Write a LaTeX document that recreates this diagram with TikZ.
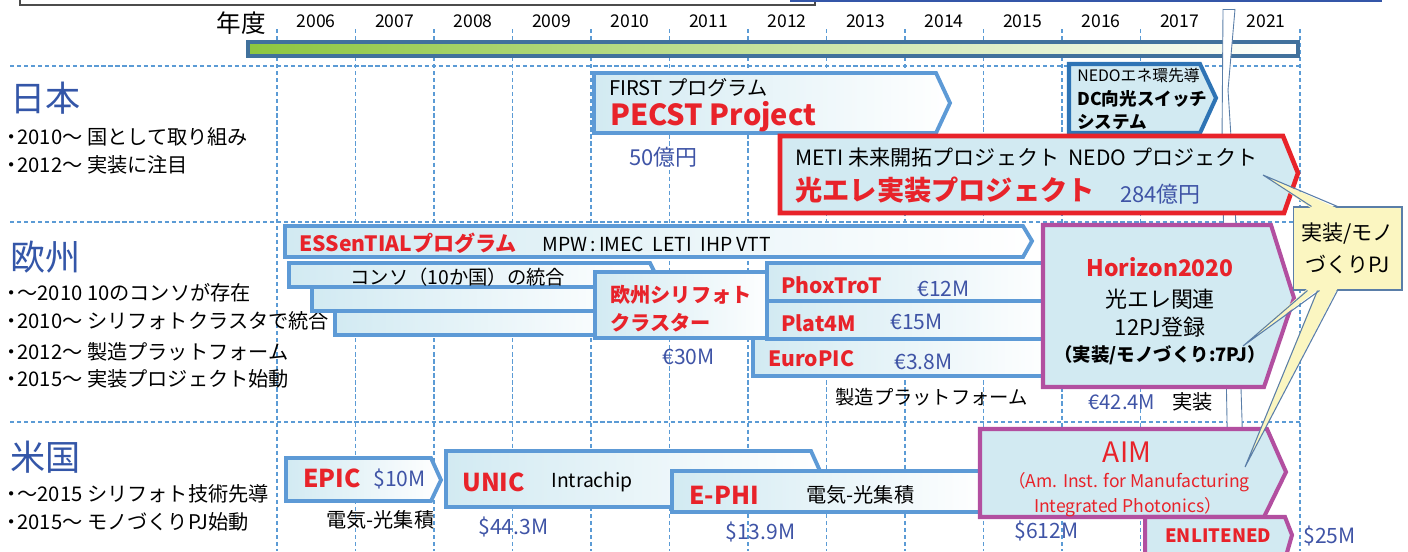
\documentclass[tikz,border=0pt]{standalone}
\usepackage{fontspec}
\setmainfont{Noto Sans CJK JP}
\usetikzlibrary{calc}
\definecolor{gridblue}{HTML}{5B9BD5}
\definecolor{headblue}{HTML}{3456A8}
\definecolor{moneyblue}{HTML}{3F54A6}
\definecolor{jred}{HTML}{E8232A}
\definecolor{boxblue}{HTML}{5D9AD6}
\definecolor{nedoblue}{HTML}{2E74B5}
\definecolor{boxcyan}{HTML}{D2EAF2}
\definecolor{hzpurple}{HTML}{B24FA0}
\definecolor{barline}{HTML}{41719C}
\definecolor{bargreen}{HTML}{8DC63F}
\definecolor{callfill}{HTML}{FBF6C1}
\definecolor{callline}{HTML}{5A7EA8}
\newcommand{\fsz}[1]{\fontsize{#1}{#1}\selectfont}
\newcommand{\bdot}{\makebox[0.55em][c]{・}}

\begin{document}
\begin{tikzpicture}[x=0.02cm,y=-0.02cm,
  gridln/.style={gridblue,line width=0.7pt,dash pattern=on 2.4pt off 1.6pt},
  bx/.style={draw=boxblue,line width=2.2pt,left color=boxcyan,right color=white},
  bxflat/.style={draw=#1,line width=2.3pt,fill=boxcyan},
  tx/.style={inner sep=0pt,anchor=west,font=\fsz{#1}},
  txb/.style={inner sep=0pt,anchor=west,font=\fsz{#1}\bfseries},
  tred/.style={inner sep=0pt,anchor=west,text=jred,font=\fsz{#1}\bfseries},
  money/.style={inner sep=0pt,anchor=west,text=moneyblue,font=\fsz{#1}},
  head/.style={inner sep=0pt,anchor=west,text=headblue,font=\fsz{20}},
  callln/.style={callline,line width=0.6pt}]
\useasboundingbox (0,0) rectangle (1408,551);

% cut-off frames at the top edge
\draw[black!70,line width=0.6pt] (20,-3) -- (20,5) -- (815,5) -- (815,-3);
\fill[headblue] (790,-5) rectangle (1382,2.2);

% year header
\node[tx=14,anchor=center] (nendo) at (241,23) {年度};
\foreach \yr [count=\k from 0] in {2006,...,2017}
  \node[tx=10,anchor=center] (yr\yr) at ({316+78.5*\k},21.5) {\yr};
\node[tx=10,anchor=center] (yr2021) at (1266,21.5) {2021};

% grid
\foreach \k in {0,...,11}
  \draw[gridln] ({277+78.5*\k},29) -- ({277+78.5*\k},551);
\draw[gridln] (1300,29) -- (1300,551);
\foreach \h in {66,222,422}
  \draw[gridln] (10,\h) -- (1300,\h);

% time bar
\draw[barline,line width=2.4pt,left color=bargreen,middle color=bargreen!30,right color=white]
  (248,42) rectangle (1298,56);

% break mark 2017 / 2021
\fill[white] (1223,9) -- (1222,140) -- (1227,420) -- (1229,551)
  -- (1244,551) -- (1242,420) -- (1235,200) -- (1228,90) -- (1235,9) -- cycle;
\draw[callline,line width=0.5pt] (1223,9) -- (1222,140) -- (1227,420) -- (1229,551);
\draw[callline,line width=0.5pt] (1235,9) -- (1228,90) -- (1235,200) -- (1242,420) -- (1244,551);
\draw[callline,line width=0.5pt] (1223,9) -- (1235,9);

% Japan
\node[head] (jp) at (10,98) {日本};
\node[tx=11.5] (jp1) at (6,137) {\bdot 2010〜 国として取り組み};
\node[tx=11.5] (jp2) at (6,165) {\bdot 2012〜 実装に注目};

\draw[bx] (594,73) -- (936,73) -- (950,103) -- (936,133) -- (594,133) -- cycle;
\node[tx=11.5] (first1) at (609,88) {FIRST プログラム};
\node[tred=16.5] (first2) at (610,117) {PECST Project};
\node[money=12.5] (first3) at (629,157) {50億円};

\draw[bxflat=nedoblue] (1069,64) -- (1200,64) -- (1216,98) -- (1200,133) -- (1069,133) -- cycle;
\node[tx=9] (nedo1) at (1077,76) {NEDOエネ環先導};
\node[txb=10] (nedo2) at (1077,99) {DC向光スイッチ};
\node[txb=10] (nedo3) at (1077,122) {システム};

\draw[bxflat=jred,line width=2.6pt] (780,136) -- (1283,136) -- (1298,173) -- (1284,213) -- (780,213) -- cycle;
\node[tx=12] (meti1) at (795,157) {METI 未来開拓プロジェクト\ \ NEDO プロジェクト};
\node[tred=15.5] (meti2) at (795,190) {光エレ実装プロジェクト};
\node[money=12.5] (meti3) at (1120,194) {284億円};

% Europe
\node[head] (eu) at (10,257) {欧州};
\node[tx=11.5] (eu1) at (6,293) {\bdot 〜2010 10のコンソが存在};
\node[tx=11.5] (eu2) at (6,321) {\bdot 2010〜 シリフォトクラスタで統合};
\node[tx=11.5] (eu3) at (6,352) {\bdot 2012〜 製造プラットフォーム};
\node[tx=11.5] (eu4) at (6,379) {\bdot 2015〜 実装プロジェクト始動};

\draw[bx] (285,226) -- (1023,226) -- (1032,241) -- (1023,257) -- (285,257) -- cycle;
\node[tred=12] (ess1) at (299,243) {ESSenTIALプログラム};
\node[tx=11] (ess2) at (542,244) {MPW\,:\,IMEC\ \ LETI\ \ IHP VTT};

\draw[bx] (335,311) rectangle (640,335);
\draw[bx] (312,287) rectangle (640,311);
\draw[bx] (289,263) -- (650,263) -- (656,275) -- (650,287) -- (289,287) -- cycle;
\node[tx=11] (consol) at (350,277) {コンソ（10か国）の統合};

\draw[bx] (595,272) rectangle (775,338);
\node[tred=11.5] (clus1) at (610,295) {欧州シリフォト};
\node[tred=11.5] (clus2) at (610,323) {クラスター};
\node[money=12] (clus3) at (662,357) {€30M};

\draw[bx] (753,338) rectangle (1055,376);
\draw[bx] (767,301) rectangle (1055,339);
\draw[bx] (767,263) rectangle (1055,301);
\node[tred=12] (phox1) at (781,285) {PhoxTroT};
\node[money=12] (phox2) at (917,289) {€12M};
\node[tred=12] (plat1) at (781,323) {Plat4M};
\node[money=12] (plat2) at (890,322) {€15M};
\node[tred=12] (epic1) at (768,359) {EuroPIC};
\node[money=12] (epic2) at (894,362) {€3.8M};
\node[tx=11] (mfg) at (835,397) {製造プラットフォーム};
\node[money=11.5] (h2m) at (1088,402) {€42.4M};
\node[tx=11.5] (h2j) at (1172,402) {実装};

\draw[bxflat=hzpurple] (1043,225) -- (1271,225) -- (1294,298) -- (1264,387) -- (1043,387) -- cycle;
\node[tred=13,anchor=center] (hz1) at (1160,267) {Horizon2020};
\node[tx=12.5,anchor=center] (hz2) at (1160,299) {光エレ関連};
\node[tx=12.5,anchor=center] (hz3) at (1160,327) {12PJ登録};
\node[txb=10.5,anchor=center] (hz4) at (1160,355) {（実装/モノづくり:7PJ）};

% USA
\node[head] (us) at (10,457) {米国};
\node[tx=11.5] (us1) at (6,494) {\bdot 〜2015 シリフォト技術先導};
\node[tx=11.5] (us2) at (6,522) {\bdot 2015〜 モノづくりPJ始動};

\draw[bx] (286,458) -- (431,458) -- (441,480) -- (431,501) -- (286,501) -- cycle;
\node[tred=14] (epc1) at (303,478) {EPIC};
\node[money=12] (epc2) at (373,479) {\$10M};
\node[tx=11.5] (epc3) at (326,520) {電気-光集積};

\draw[bx] (446,451) -- (811,451) -- (820,471) -- (820,507) -- (446,507) -- cycle;
\node[tred=14] (unic1) at (462,482) {UNIC};
\node[tx=11] (unic2) at (551,482) {Intrachip};
\node[money=12] (unic3) at (478,527) {\$44.3M};

\draw[bx] (672,471) rectangle (990,512);
\node[tred=14] (ephi1) at (689,495) {E-PHI};
\node[tx=11.5] (ephi2) at (806,495) {電気-光集積};
\node[money=12] (ephi3) at (725,532) {\$13.9M};

\draw[bxflat=hzpurple] (980,429) -- (1267,429) -- (1286,472) -- (1264,517) -- (980,517) -- cycle;
\node[tx=16,anchor=center,text=jred] (aim1) at (1127,452) {AIM};
\node[tx=10,anchor=center,text=jred] (aim2) at (1129,482) {（Am. Inst. for Manufacturing};
\node[tx=10,anchor=center,text=jred] (aim3) at (1128,507) {Integrated Photonics）};
\node[money=12] (aim4) at (1014,531) {\$612M};

\draw[bxflat=hzpurple] (1145,517) -- (1285,517) -- (1292,535) -- (1286,556) -- (1145,556) -- cycle;
\node[tred=10.5] (enl1) at (1165,536) {ENLITENED};
\node[money=12] (enl2) at (1303,536) {\$25M};

% callout
\node[draw=callline,line width=0.6pt,fill=callfill,inner sep=0pt,
  minimum width=2.18cm,minimum height=1.66cm,align=center,font=\fontsize{12}{18}\selectfont]
  (mono) at (1347.5,248.5) {実装/モノ\\づくりPJ};
\coordinate (tipmeti) at (1263,175);
\coordinate (tiphz) at (1243,346);
\coordinate (tipaim) at (1245,467);
\fill[callfill] ($(mono.north west)+(19,2)$) -- (tipmeti) -- ($(mono.north west)+(45,2)$) -- cycle;
\draw[callln] ($(mono.north west)+(19,0)$) -- (tipmeti) -- ($(mono.north west)+(45,0)$);
\fill[callfill] ($(mono.south west)+(25,-2)$) -- (tipaim) -- ($(mono.south west)+(45,-2)$) -- cycle;
\draw[callln] ($(mono.south west)+(25,0)$) -- (tipaim) -- ($(mono.south west)+(45,0)$);
\fill[callfill] ($(mono.south west)+(15,-2)$) -- (tiphz) -- ($(mono.south west)+(27,-2)$) -- cycle;
\draw[callln] ($(mono.south west)+(15,0)$) -- (tiphz) -- ($(mono.south west)+(27,0)$);
\end{tikzpicture}
\end{document}
